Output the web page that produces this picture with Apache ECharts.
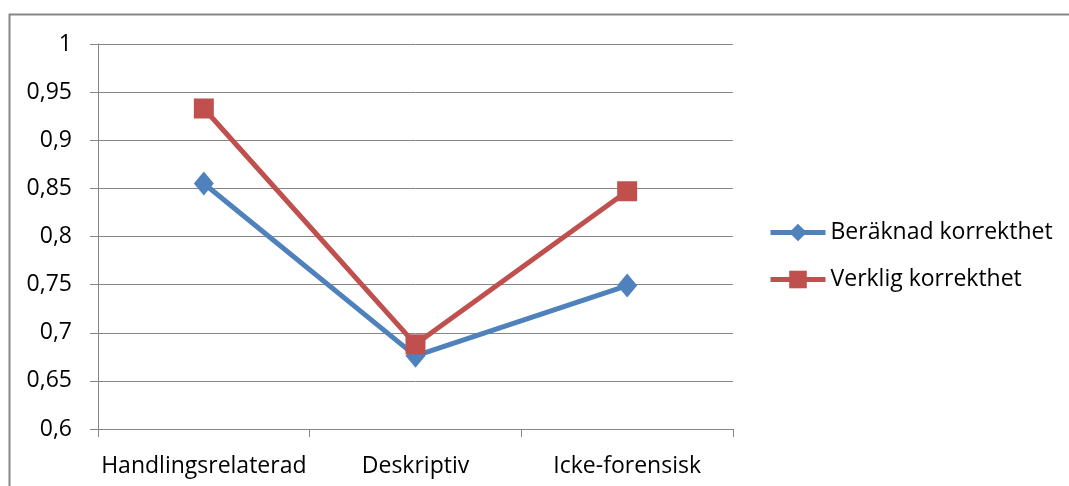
<!DOCTYPE html>
<html>
<head>
<meta charset="utf-8">
<script src="https://cdn.jsdelivr.net/npm/echarts@6/dist/echarts.min.js"></script>
<style>
  html, body { margin: 0; padding: 0; background: #fff; }
  #chart { width: 1069px; height: 486px; }
</style>
</head>
<body>
<div id="chart"></div>
<script>
// kategorier och värden
const categories = ['Handlingsrelaterad', 'Deskriptiv', 'Icke-forensisk'];
const beraknad = [0.855, 0.676, 0.749];
const verklig = [0.933, 0.688, 0.847];
const seriesNames = ['Beräknad korrekthet', 'Verklig korrekthet'];

const font = '"Open Sans", sans-serif';
const gray = '#868686';
const fs = 23;

const chart = echarts.init(document.getElementById('chart'));
chart.setOption({
  animation: false,
  textStyle: { fontFamily: font },
  graphic: [
    {
      type: 'rect',
      shape: { x: 9.5, y: 14.5, width: 1100, height: 520 },
      style: { fill: 'none', stroke: gray, lineWidth: 2 },
      silent: true
    }
  ],
  grid: { left: 98, right: 336, top: 44, bottom: 57 },
  legend: {
    orient: 'vertical',
    left: 763,
    top: 216,
    itemWidth: 55,
    itemHeight: 22,
    itemGap: 24,
    lineStyle: { width: 5 },
    textStyle: { fontFamily: font, fontSize: fs, color: '#000' },
    data: seriesNames
  },
  xAxis: {
    type: 'category',
    data: categories,
    boundaryGap: true,
    axisLine: { lineStyle: { color: gray, width: 1 } },
    axisTick: { show: true, length: 8, lineStyle: { color: gray } },
    axisLabel: { interval: 0, margin: 26, fontSize: fs, color: '#000', fontFamily: font },
    splitLine: { show: false }
  },
  yAxis: {
    type: 'value',
    min: 0.6,
    max: 1,
    interval: 0.05,
    axisLine: { show: true, lineStyle: { color: gray, width: 1 } },
    axisTick: { show: true, length: 8, lineStyle: { color: gray } },
    axisLabel: {
      margin: 26,
      fontSize: fs,
      color: '#000',
      fontFamily: font,
      formatter: v => String(Math.round(v * 100) / 100).replace('.', ',')
    },
    splitLine: { lineStyle: { color: gray, width: 1 } }
  },
  series: [
    {
      name: seriesNames[0],
      type: 'line',
      data: beraknad,
      symbol: 'diamond',
      symbolSize: [20, 24],
      itemStyle: { color: '#4F81BD' },
      lineStyle: { color: '#4F81BD', width: 5 }
    },
    {
      name: seriesNames[1],
      type: 'line',
      data: verklig,
      symbol: 'rect',
      symbolSize: 20,
      itemStyle: { color: '#C0504D' },
      lineStyle: { color: '#C0504D', width: 5 }
    }
  ]
});
</script>
</body>
</html>
